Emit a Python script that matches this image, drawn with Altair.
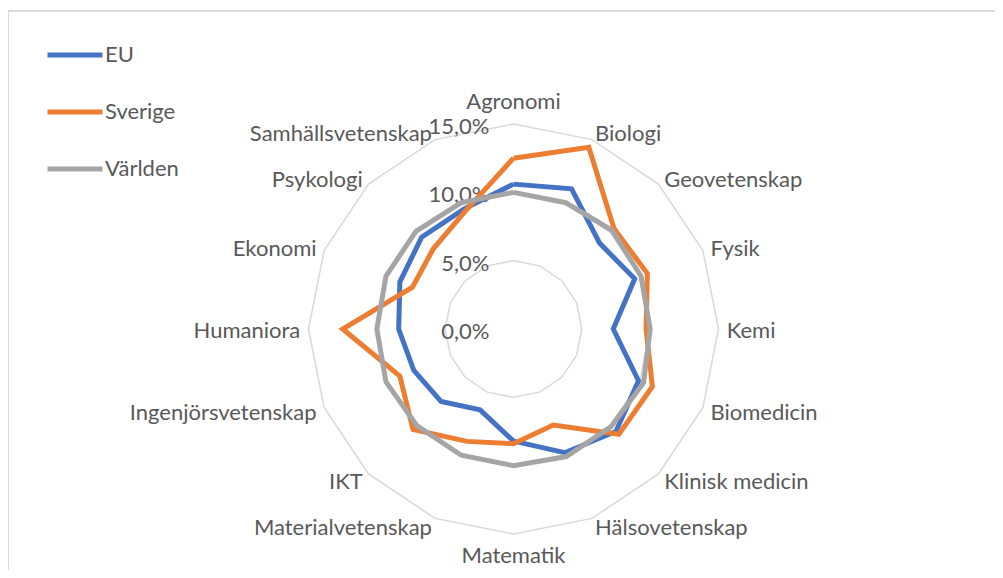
import altair as alt
import pandas as pd

# ---------------- data ----------------
categories = ["Agronomi", "Biologi", "Geovetenskap", "Fysik", "Kemi", "Biomedicin",
              "Klinisk medicin", "Hälsovetenskap", "Matematik", "Materialvetenskap",
              "IKT", "Ingenjörsvetenskap", "Humaniora", "Ekonomi", "Psykologi",
              "Samhällsvetenskap"]
eu = [10.6, 11.1, 8.9, 9.6, 7.3, 9.9, 10.6, 9.8, 8.2, 6.4, 7.5, 7.9, 8.4, 9.0, 9.5, 9.5]
sverige = [12.5, 14.4, 10.4, 10.6, 9.7, 11.0, 10.9, 7.6, 8.4, 8.9, 10.4, 9.0, 12.5, 8.0, 8.3, 9.3]
varlden = [10.0, 10.0, 10.2, 10.1, 10.0, 10.3, 10.1, 10.1, 10.0, 10.0, 10.0, 10.1, 10.0, 10.1, 10.1, 10.0]
series_names = ["EU", "Sverige", "Världen"]
series_colors = ["#4472C4", "#ED7D31", "#A5A5A5"]
tick_values = [0, 5, 10, 15]
tick_labels = ["0,0%", "5,0%", "10,0%", "15,0%"]

# ---------------- layout ----------------
N = len(categories)
W, H = 987, 559
cx, cy = 505.5, 318.0          # centre inside plot area (px)
k = 205.0 / 15.0               # px per percent
xdom = [-cx / k, (W - cx) / k]
ydom = [-(H - cy) / k, cy / k]
FONT = "Lato"
FS = 22
TXT = "#595959"
GRID = "#D9D9D9"
LABEL_R = 15.6

ang = "datum.idx * 2 * PI / %d" % N
xs = alt.X("px:Q", scale=alt.Scale(domain=xdom, nice=False, zero=False), axis=None)
ys = alt.Y("py:Q", scale=alt.Scale(domain=ydom, nice=False, zero=False), axis=None)

# series table (closed polygons)
rows = []
for name, vals in zip(series_names, [eu, sverige, varlden]):
    for i in range(N + 1):
        rows.append({"serie": name, "idx": i, "kategori": categories[i % N], "value": vals[i % N]})
series_df = pd.DataFrame(rows)

# grid rings
grid_rows = []
for lv in tick_values[1:]:
    for i in range(N + 1):
        grid_rows.append({"level": lv, "idx": i})
grid_df = pd.DataFrame(grid_rows)

cat_df = pd.DataFrame({"kategori": categories, "idx": list(range(N))})
tick_df = pd.DataFrame({"v": tick_values, "lab": tick_labels})

grid = alt.Chart(grid_df).mark_line(color=GRID, strokeWidth=1.5).transform_calculate(
    px="datum.level * sin(%s)" % ang, py="datum.level * cos(%s)" % ang
).encode(x=xs, y=ys, detail="level:N", order="idx:Q")

ticks = alt.Chart(tick_df).mark_text(
    align="right", baseline="middle", dx=-24, dy=3, font=FONT, fontSize=FS, color=TXT
).transform_calculate(px="0", py="datum.v").encode(x=xs, y=ys, text="lab:N")

lab_base = alt.Chart(cat_df).transform_calculate(
    px="%f * sin(%s)" % (LABEL_R, ang), py="%f * cos(%s)" % (LABEL_R, ang)
)
lab_right = lab_base.mark_text(align="left", baseline="middle", dy=2, font=FONT, fontSize=FS, color=TXT
                               ).transform_filter("datum.idx > 0 && datum.idx < %d" % (N // 2)
                               ).encode(x=xs, y=ys, text="kategori:N")
lab_left = lab_base.mark_text(align="right", baseline="middle", dy=2, font=FONT, fontSize=FS, color=TXT
                              ).transform_filter("datum.idx > %d" % (N // 2)
                              ).encode(x=xs, y=ys, text="kategori:N")
lab_top = lab_base.mark_text(align="center", baseline="middle", dy=-14, font=FONT, fontSize=FS, color=TXT
                             ).transform_filter("datum.idx == 0").encode(x=xs, y=ys, text="kategori:N")
lab_bot = lab_base.mark_text(align="center", baseline="middle", dy=14, font=FONT, fontSize=FS, color=TXT
                             ).transform_filter("datum.idx == %d" % (N // 2)).encode(x=xs, y=ys, text="kategori:N")

lines = alt.Chart(series_df).mark_line(strokeWidth=5).transform_calculate(
    px="datum.value * sin(%s)" % ang, py="datum.value * cos(%s)" % ang
).encode(
    x=xs, y=ys,
    color=alt.Color("serie:N", scale=alt.Scale(domain=series_names, range=series_colors),
                    legend=alt.Legend(title=None, orient="none", legendX=37, legendY=14)),
    order="idx:Q",
)

frame_top = alt.Chart(cat_df).mark_rule(color=GRID, strokeWidth=1.5).encode(
    x=alt.value(0), x2=alt.value(W + 10), y=alt.value(0))
frame_left = alt.Chart(cat_df).mark_rule(color=GRID, strokeWidth=1.5).encode(
    x=alt.value(0), y=alt.value(0), y2=alt.value(H + 10))

chart = alt.layer(frame_top, frame_left, grid, ticks, lab_right, lab_left, lab_top, lab_bot, lines).properties(
    width=W, height=H,
    autosize=alt.AutoSizeParams(type="none"),
    padding={"left": 0, "top": 3, "right": 0, "bottom": 0},
).configure_view(stroke=None).configure_legend(
    symbolType="stroke", symbolSize=3025, symbolStrokeWidth=5,
    labelFont=FONT, labelFontSize=FS, labelColor=TXT, labelOffset=0,
    rowPadding=16, padding=0,
)

chart.save("out.html", embed_options={"renderer": "svg", "actions": False})
